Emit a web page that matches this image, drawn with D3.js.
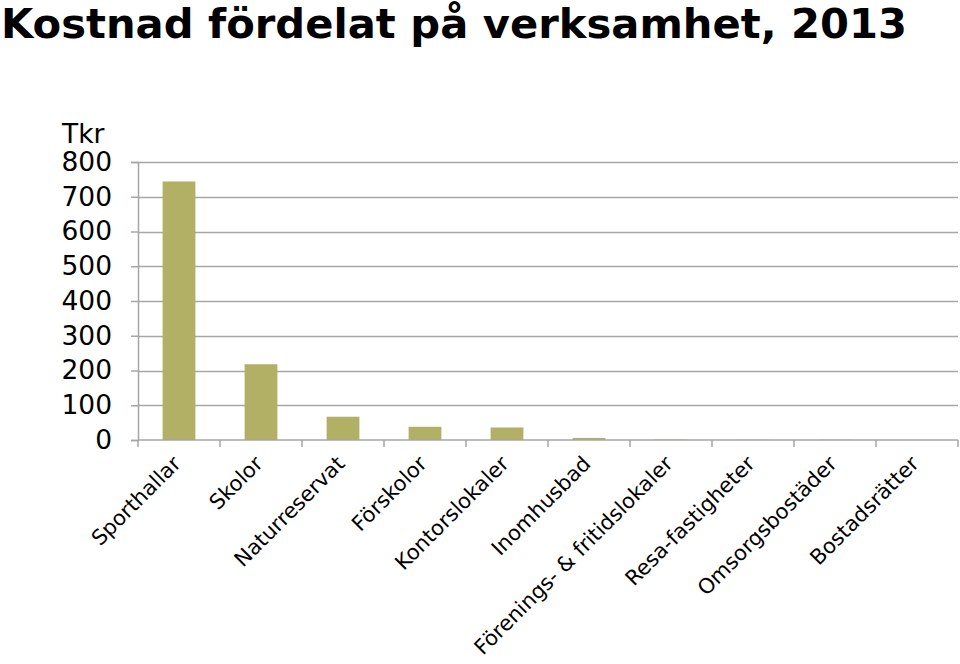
<!DOCTYPE html>
<html><head><meta charset="utf-8">
<script src="https://cdn.jsdelivr.net/npm/d3@7"></script>
<style>body{margin:0;background:#fff}svg{display:block}</style>
</head><body>
<script>
const title = "Kostnad fördelat på verksamhet, 2013";
const unitLabel = "Tkr";
const categories = ["Sporthallar","Skolor","Naturreservat","Förskolor","Kontorslokaler","Inomhusbad","Förenings- & fritidslokaler","Resa-fastigheter","Omsorgsbostäder","Bostadsrätter"];
const values = [744, 218, 67, 38, 36, 6, 1.5, 0.8, 0.8, 0];
const yTicks = [0,100,200,300,400,500,600,700,800];

const W=960,H=664;
const FONT="'DejaVu Sans', Verdana, sans-serif";
const m={left:138,right:2,top:162,bottom:224};
const svg=d3.select("body").append("svg").attr("width",W).attr("height",H);
const x=d3.scaleBand().domain(categories).range([m.left,W-m.right]).paddingInner(0.6).paddingOuter(0.3);
const xb=d3.scaleBand().domain(categories).range([m.left,W-m.right]);
const y=d3.scaleLinear().domain([0,800]).range([H-m.bottom,m.top]);

svg.append("text").attr("x",1).attr("y",38).attr("font-family",FONT)
  .attr("font-weight","bold").attr("font-size",41.5).attr("textLength",906).attr("lengthAdjust","spacingAndGlyphs")
  .attr("fill","#000").text(title);

// gridlines
svg.append("g").selectAll("line").data(yTicks.filter(d=>d>0)).join("line")
  .attr("x1",m.left).attr("x2",W-m.right).attr("y1",d=>Math.round(y(d))+0.5).attr("y2",d=>Math.round(y(d))+0.5)
  .attr("stroke","#a6a6a6").attr("stroke-width",1.5);

// y axis
const ya=svg.append("g").attr("transform",`translate(${m.left},0)`)
  .call(d3.axisLeft(y).tickValues(yTicks).tickSize(7).tickPadding(19).tickFormat(d3.format("d")));
ya.select(".domain").attr("stroke","#a6a6a6").attr("stroke-width",1.5);
ya.selectAll(".tick line").attr("stroke","#a6a6a6").attr("stroke-width",1.5);
ya.selectAll("text").attr("font-family",FONT).attr("font-size",26.5).attr("fill","#000");

svg.append("text").attr("x",62).attr("y",143).attr("text-anchor","start")
  .attr("font-family",FONT).attr("font-size",26.5).attr("fill","#000").text(unitLabel);

// bars
svg.append("g").selectAll("rect").data(values).join("rect")
  .attr("x",(d,i)=>x(categories[i])).attr("width",x.bandwidth())
  .attr("y",d=>y(d)).attr("height",d=>y(0)-y(d)).attr("fill","#b1b065");

// x axis
const y0=y(0);
svg.append("line").attr("x1",m.left).attr("x2",W-m.right).attr("y1",y0).attr("y2",y0).attr("stroke","#a6a6a6").attr("stroke-width",1.5);
const bounds=categories.map(c=>xb(c)).concat([W-m.right]);
svg.append("g").selectAll("line").data(bounds).join("line")
  .attr("x1",d=>d).attr("x2",d=>d).attr("y1",y0).attr("y2",y0+7).attr("stroke","#a6a6a6").attr("stroke-width",1.5);

svg.append("g").selectAll("text").data(categories).join("text")
  .attr("transform",c=>`translate(${xb(c)+xb.bandwidth()/2+3},${y0+25}) rotate(-45)`)
  .attr("text-anchor","end").attr("font-family",FONT).attr("font-size",21).attr("fill","#000")
  .text(c=>c);
</script>
</body></html>
